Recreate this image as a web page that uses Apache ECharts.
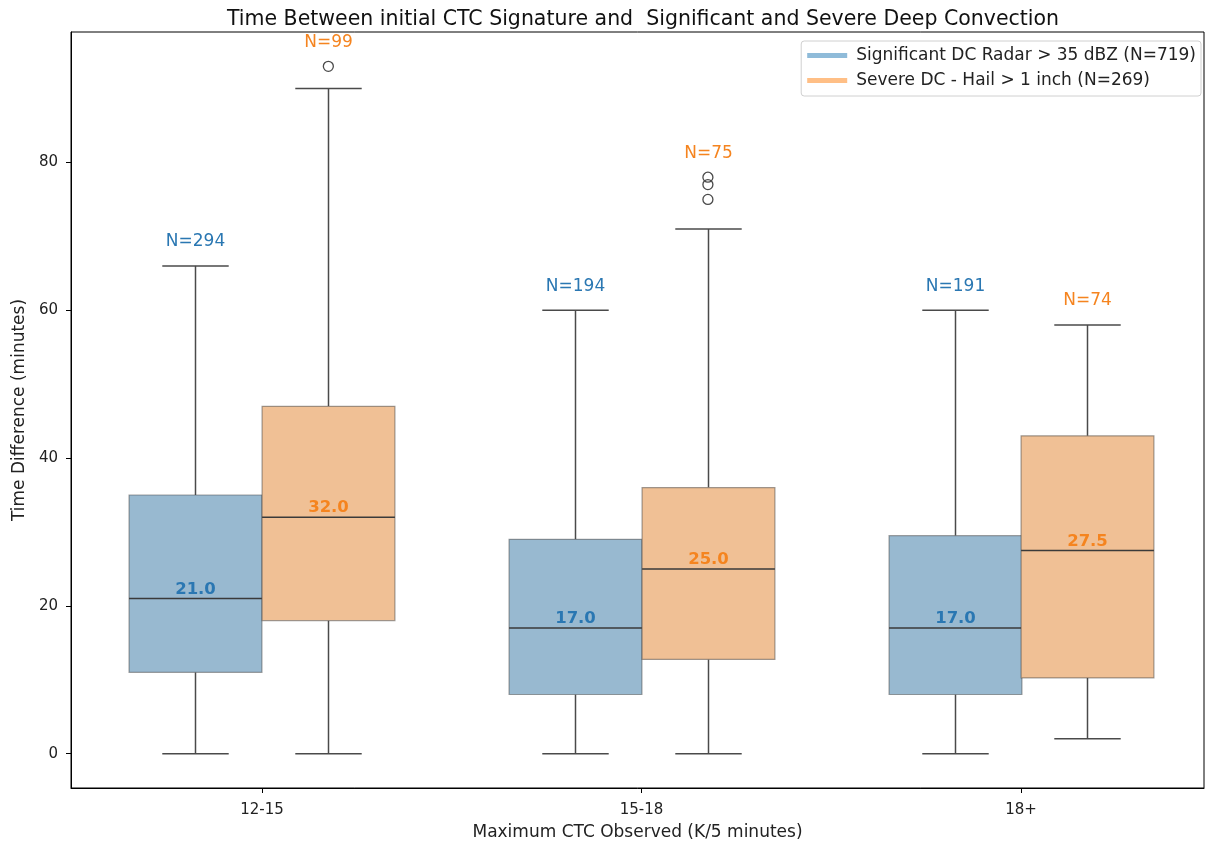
<!DOCTYPE html>
<html>
<head>
<meta charset="utf-8">
<title>Time Between initial CTC Signature and Significant and Severe Deep Convection</title>
<script src="https://cdn.jsdelivr.net/npm/echarts@6/dist/echarts.min.js"></script>
<style>
  html, body { margin: 0; padding: 0; background: #fff; }
  #chart { width: 1206px; height: 843px; }
</style>
</head>
<body>
<div id="chart"></div>
<script>
// Maximum CTC bins on the x axis (placed at positions 0, 1, 2)
const categories = ['12-15', '15-18', '18+'];
const categoryPositions = [0, 1, 2];

// Significant DC (radar > 35 dBZ): five-number summaries per bin
const sigLow    = [0, 0, 0];
const sigQ1     = [11, 8, 8];
const sigMedian = [21, 17, 17];
const sigQ3     = [35, 29, 29.5];
const sigHigh   = [66, 60, 60];
const sigCount  = [294, 194, 191];
const sigOutliers = [];

// Severe DC (hail > 1 inch): five-number summaries per bin
const sevLow    = [0, 0, 2];
const sevQ1     = [18, 12.75, 10.25];
const sevMedian = [32, 25, 27.5];
const sevQ3     = [47, 36, 43];
const sevHigh   = [90, 71, 58];
const sevCount  = [99, 75, 74];
// [bin index, minutes]
const sevOutliers = [[0, 93], [1, 75], [1, 77], [1, 78]];

const yTicks = [0, 20, 40, 60, 80];

const FONT = '"DejaVu Sans", sans-serif';
const BOX_FRAC = 0.35;          // box width as a share of one bin
const LINE_COLOR = '#4a4a4a';

const groups = [
  {
    name: 'Significant DC Radar > 35 dBZ (N=719)',
    legendColor: '#8fbbd9', fill: '#98b9d0', text: '#2a77b2',
    shift: -BOX_FRAC / 2,
    low: sigLow, q1: sigQ1, med: sigMedian, q3: sigQ3, high: sigHigh, n: sigCount,
    outliers: sigOutliers
  },
  {
    name: 'Severe DC - Hail > 1 inch (N=269)',
    legendColor: '#ffbf86', fill: '#f0c095', text: '#f5841f',
    shift: BOX_FRAC / 2,
    low: sevLow, q1: sevQ1, med: sevMedian, q3: sevQ3, high: sevHigh, n: sevCount,
    outliers: sevOutliers
  }
];

function boxRows(g) {
  return categoryPositions.map(i => {
    const tops = g.outliers.filter(o => o[0] === i).map(o => o[1]);
    const top = Math.max(g.high[i], ...tops);
    return [i, g.low[i], g.q1[i], g.med[i], g.q3[i], g.high[i], g.n[i], top];
  });
}

function makeBoxRenderer(g) {
  return function (params, api) {
    const c = api.value(0);
    const band = api.size([1, 0])[0];
    const bw = band * BOX_FRAC;
    const x = Math.round(api.coord([c + g.shift, 0])[0]) + 0.5;
    const y = v => api.coord([c, v])[1];
    const lo = y(api.value(1)), q1 = y(api.value(2)), md = y(api.value(3));
    const q3 = y(api.value(4)), hi = y(api.value(5));
    const n = api.value(6), top = y(api.value(7));
    const cap = bw / 2;
    const lineStyle = { stroke: LINE_COLOR, lineWidth: 1.5 };
    return {
      type: 'group',
      children: [
        { type: 'line', shape: { x1: x, y1: q1, x2: x, y2: lo }, style: lineStyle },
        { type: 'line', shape: { x1: x, y1: q3, x2: x, y2: hi }, style: lineStyle },
        { type: 'line', shape: { x1: x - cap / 2, y1: lo, x2: x + cap / 2, y2: lo }, style: lineStyle },
        { type: 'line', shape: { x1: x - cap / 2, y1: hi, x2: x + cap / 2, y2: hi }, style: lineStyle },
        {
          type: 'rect',
          shape: { x: x - bw / 2, y: q3, width: bw, height: q1 - q3 },
          style: { fill: g.fill, stroke: 'rgba(70,70,70,0.5)', lineWidth: 1.2 }
        },
        { type: 'line', shape: { x1: x - bw / 2, y1: md, x2: x + bw / 2, y2: md },
          style: { stroke: '#3a3a3a', lineWidth: 1.5 } },
        {
          type: 'text',
          style: {
            x: x, y: md - 9, text: api.value(3).toFixed(1),
            fill: g.text, font: 'bold 16.5px ' + FONT,
            align: 'center', verticalAlign: 'middle'
          }
        },
        {
          type: 'text',
          style: {
            x: x, y: top - 24, text: 'N=' + n,
            fill: g.text, font: '17px ' + FONT,
            align: 'center', verticalAlign: 'middle'
          }
        }
      ]
    };
  };
}

function makeOutlierRenderer(g) {
  return function (params, api) {
    const p = api.coord([api.value(0) + g.shift, api.value(1)]);
    return {
      type: 'circle',
      shape: { cx: p[0], cy: p[1], r: 5 },
      style: { fill: 'none', stroke: LINE_COLOR, lineWidth: 1.3 }
    };
  };
}

const series = [];
groups.forEach(g => {
  series.push({
    name: g.name,
    type: 'custom',
    itemStyle: { color: g.legendColor },
    renderItem: makeBoxRenderer(g),
    encode: { x: 0, y: [1, 2, 3, 4, 5] },
    data: boxRows(g),
    clip: false,
    z: 2
  });
  series.push({
    name: g.name,
    type: 'custom',
    itemStyle: { color: g.legendColor },
    renderItem: makeOutlierRenderer(g),
    encode: { x: 0, y: 1 },
    data: g.outliers,
    z: 3
  });
});

const chart = echarts.init(document.getElementById('chart'), null, { renderer: 'canvas' });
chart.setOption({
  animation: false,
  backgroundColor: '#ffffff',
  textStyle: { fontFamily: FONT },
  title: {
    text: 'Time Between initial CTC Signature and  Significant and Severe Deep Convection',
    left: 638,
    top: 4,
    textAlign: 'center',
    textStyle: { fontFamily: FONT, fontSize: 20.5, fontWeight: 'normal', color: '#111' }
  },
  legend: {
    orient: 'vertical',
    right: 5,
    top: 41,
    padding: [6, 5, 7, 6],
    itemGap: 8,
    itemWidth: 40,
    itemHeight: 5,
    backgroundColor: 'rgba(255,255,255,0.85)',
    borderColor: '#d0d0d0',
    borderWidth: 1,
    borderRadius: 3,
    selectedMode: false,
    textStyle: { fontFamily: FONT, fontSize: 17, lineHeight: 17, color: '#222', padding: [0, 0, 0, 4] },
    data: groups.map(g => ({ name: g.name, icon: 'rect', itemStyle: { color: g.legendColor } }))
  },
  grid: {
    left: 71, right: 2, top: 32, bottom: 55,
    outerBoundsMode: 'none',
    containLabel: false,
    show: true, borderColor: '#000', borderWidth: 1, backgroundColor: 'transparent'
  },
  xAxis: {
    type: 'value',
    min: -0.503,
    max: 2.482,
    name: 'Maximum CTC Observed (K/5 minutes)',
    nameLocation: 'middle',
    nameGap: 36,
    nameTextStyle: { fontFamily: FONT, fontSize: 17, color: '#222' },
    axisLine: { onZero: false, lineStyle: { color: '#000', width: 1 } },
    axisTick: { show: true, length: 5, customValues: categoryPositions, lineStyle: { color: '#000' } },
    axisLabel: {
      fontFamily: FONT, fontSize: 15, color: '#222', margin: 15,
      customValues: categoryPositions,
      formatter: v => categories[Math.round(v)]
    },
    splitLine: { show: false }
  },
  yAxis: {
    type: 'value',
    min: -4.65,
    max: 97.65,
    name: 'Time Difference (minutes)',
    nameLocation: 'middle',
    nameGap: 40,
    nameTextStyle: { fontFamily: FONT, fontSize: 17, color: '#222' },
    axisLine: { show: true, onZero: false, lineStyle: { color: '#000', width: 1 } },
    axisTick: { show: true, length: 5, customValues: yTicks, lineStyle: { color: '#000' } },
    axisLabel: { fontFamily: FONT, fontSize: 15, color: '#222', margin: 13, customValues: yTicks },
    splitLine: { show: false }
  },
  series: series
});
</script>
</body>
</html>
